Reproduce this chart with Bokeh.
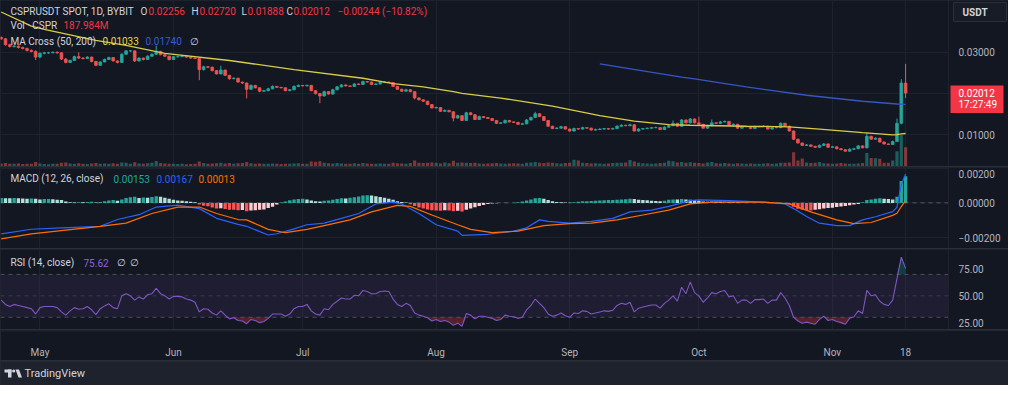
from bokeh.plotting import figure
from bokeh.layouts import column, row
from bokeh.models import (Range1d, FixedTicker, Label, Span, BoxAnnotation,
                          ColumnDataSource, Grid)
from bokeh.core.properties import value
from bokeh.embed import file_html
from bokeh.resources import INLINE

# ---------------- data ----------------
month_ticks = [9, 40, 70, 101, 132, 162, 193, 210]
month_labels = ["May", "Jun", "Jul", "Aug", "Sep", "Oct", "Nov", "18"]

first_open = 0.03361
closes = [
    0.03326, 0.03186, 0.03140, 0.03151, 0.03116, 0.03093, 0.03047, 0.03023, 0.02884, 0.02977,
    0.02988, 0.02988, 0.03000, 0.02988, 0.02837, 0.02756, 0.02802, 0.02895, 0.02860, 0.02849,
    0.02884, 0.02779, 0.02686, 0.02767, 0.02826, 0.02872, 0.02791, 0.02756, 0.02953, 0.03035,
    0.03035, 0.02791, 0.02860, 0.02826, 0.02907, 0.02953, 0.03023, 0.02942, 0.02907, 0.02826,
    0.02895, 0.02895, 0.02907, 0.02884, 0.02860, 0.02849, 0.02581, 0.02651, 0.02640, 0.02558,
    0.02477, 0.02570, 0.02442, 0.02360, 0.02372, 0.02279, 0.02256, 0.02105, 0.02198, 0.02140,
    0.02058, 0.02070, 0.02116, 0.02174, 0.02151, 0.02140, 0.02070, 0.02093, 0.02174, 0.02198,
    0.02186, 0.02198, 0.02070, 0.02000, 0.01942, 0.02047, 0.01988, 0.02093, 0.02163, 0.02209,
    0.02186, 0.02174, 0.02233, 0.02221, 0.02291, 0.02279, 0.02221, 0.02233, 0.02267, 0.02279,
    0.02267, 0.02174, 0.02105, 0.02058, 0.02093, 0.02047, 0.01895, 0.01849, 0.01814, 0.01733,
    0.01651, 0.01663, 0.01570, 0.01593, 0.01558, 0.01407, 0.01465, 0.01349, 0.01535, 0.01488,
    0.01372, 0.01442, 0.01419, 0.01395, 0.01349, 0.01279, 0.01291, 0.01349, 0.01314, 0.01302,
    0.01256, 0.01267, 0.01360, 0.01419, 0.01512, 0.01442, 0.01349, 0.01209, 0.01151, 0.01163,
    0.01198, 0.01140, 0.01093, 0.01151, 0.01140, 0.01175, 0.01163, 0.01116, 0.01128, 0.01140,
    0.01151, 0.01140, 0.01151, 0.01209, 0.01233, 0.01221, 0.01244, 0.01093, 0.01140, 0.01151,
    0.01163, 0.01175, 0.01175, 0.01128, 0.01186, 0.01221, 0.01279, 0.01209, 0.01360, 0.01291,
    0.01384, 0.01291, 0.01256, 0.01163, 0.01221, 0.01291, 0.01279, 0.01314, 0.01326, 0.01244,
    0.01256, 0.01163, 0.01198, 0.01198, 0.01151, 0.01198, 0.01198, 0.01209, 0.01140, 0.01175,
    0.01175, 0.01279, 0.01209, 0.01093, 0.00895, 0.00802, 0.00744, 0.00756, 0.00721, 0.00698,
    0.00744, 0.00779, 0.00698, 0.00709, 0.00663, 0.00640, 0.00605, 0.00651, 0.00663, 0.00732,
    0.00686, 0.00965, 0.00895, 0.00918, 0.00826, 0.00779, 0.00767, 0.00837, 0.01279, 0.02256,
    0.02012]

highs = [
    0.03384, 0.03349, 0.03209, 0.03186, 0.03163, 0.03140, 0.03116, 0.03070, 0.03047, 0.03000,
    0.03012, 0.03012, 0.03023, 0.03023, 0.03000, 0.02860, 0.02826, 0.02919, 0.03000, 0.02884,
    0.02907, 0.02895, 0.02791, 0.02779, 0.02849, 0.02895, 0.02884, 0.02802, 0.02977, 0.03058,
    0.03058, 0.03047, 0.02884, 0.02872, 0.02930, 0.02977, 0.03163, 0.03035, 0.02953, 0.02919,
    0.02907, 0.02919, 0.02930, 0.02919, 0.02895, 0.02872, 0.02860, 0.02674, 0.02663, 0.02651,
    0.02570, 0.02674, 0.02581, 0.02453, 0.02395, 0.02384, 0.02291, 0.02267, 0.02221, 0.02209,
    0.02151, 0.02093, 0.02140, 0.02198, 0.02186, 0.02163, 0.02151, 0.02105, 0.02198, 0.02221,
    0.02209, 0.02221, 0.02209, 0.02081, 0.02012, 0.02070, 0.02058, 0.02116, 0.02186, 0.02233,
    0.02221, 0.02198, 0.02256, 0.02244, 0.02314, 0.02302, 0.02291, 0.02256, 0.02291, 0.02302,
    0.02291, 0.02279, 0.02186, 0.02116, 0.02116, 0.02105, 0.02058, 0.01907, 0.01860, 0.01826,
    0.01744, 0.01686, 0.01674, 0.01616, 0.01605, 0.01570, 0.01488, 0.01477, 0.01558, 0.01547,
    0.01500, 0.01465, 0.01453, 0.01430, 0.01407, 0.01360, 0.01302, 0.01372, 0.01360, 0.01326,
    0.01314, 0.01291, 0.01384, 0.01442, 0.01558, 0.01523, 0.01453, 0.01360, 0.01221, 0.01186,
    0.01221, 0.01209, 0.01151, 0.01175, 0.01163, 0.01198, 0.01186, 0.01175, 0.01151, 0.01163,
    0.01163, 0.01163, 0.01175, 0.01233, 0.01256, 0.01244, 0.01267, 0.01256, 0.01163, 0.01163,
    0.01175, 0.01186, 0.01198, 0.01186, 0.01209, 0.01244, 0.01349, 0.01291, 0.01384, 0.01372,
    0.01407, 0.01395, 0.01442, 0.01267, 0.01244, 0.01372, 0.01302, 0.01337, 0.01349, 0.01337,
    0.01279, 0.01267, 0.01221, 0.01221, 0.01209, 0.01221, 0.01221, 0.01233, 0.01221, 0.01198,
    0.01198, 0.01302, 0.01291, 0.01221, 0.01105, 0.00907, 0.00814, 0.00779, 0.00767, 0.00733,
    0.00767, 0.00802, 0.00791, 0.00733, 0.00721, 0.00674, 0.00651, 0.00674, 0.00686, 0.00756,
    0.00744, 0.01047, 0.00977, 0.00942, 0.00930, 0.00837, 0.00791, 0.00860, 0.01395, 0.02349,
    0.02720]

lows = [
    0.03302, 0.03163, 0.03116, 0.03116, 0.03093, 0.03070, 0.03023, 0.03000, 0.02814, 0.02860,
    0.02953, 0.02965, 0.02977, 0.02965, 0.02814, 0.02733, 0.02744, 0.02791, 0.02837, 0.02826,
    0.02837, 0.02756, 0.02663, 0.02674, 0.02756, 0.02814, 0.02779, 0.02733, 0.02744, 0.02942,
    0.03012, 0.02767, 0.02779, 0.02802, 0.02814, 0.02895, 0.02942, 0.02930, 0.02884, 0.02802,
    0.02814, 0.02872, 0.02884, 0.02872, 0.02849, 0.02837, 0.02326, 0.02558, 0.02616, 0.02535,
    0.02465, 0.02465, 0.02430, 0.02337, 0.02349, 0.02267, 0.02233, 0.01884, 0.02093, 0.02128,
    0.02035, 0.02047, 0.02058, 0.02105, 0.02140, 0.02128, 0.02058, 0.02058, 0.02081, 0.02163,
    0.02174, 0.02174, 0.02058, 0.01977, 0.01767, 0.01930, 0.01977, 0.01977, 0.02081, 0.02151,
    0.02174, 0.02163, 0.02163, 0.02209, 0.02209, 0.02267, 0.02209, 0.02209, 0.02221, 0.02256,
    0.02256, 0.02163, 0.02093, 0.02047, 0.02047, 0.02035, 0.01860, 0.01837, 0.01802, 0.01721,
    0.01640, 0.01640, 0.01558, 0.01558, 0.01547, 0.01326, 0.01395, 0.01337, 0.01337, 0.01477,
    0.01360, 0.01360, 0.01407, 0.01384, 0.01337, 0.01267, 0.01267, 0.01279, 0.01302, 0.01291,
    0.01244, 0.01244, 0.01256, 0.01349, 0.01407, 0.01430, 0.01337, 0.01198, 0.01140, 0.01140,
    0.01151, 0.01128, 0.01081, 0.01081, 0.01128, 0.01128, 0.01151, 0.01105, 0.01105, 0.01116,
    0.01128, 0.01128, 0.01128, 0.01140, 0.01198, 0.01209, 0.01209, 0.01081, 0.01081, 0.01128,
    0.01140, 0.01151, 0.01163, 0.01116, 0.01116, 0.01175, 0.01209, 0.01198, 0.01198, 0.01279,
    0.01279, 0.01279, 0.01244, 0.01151, 0.01151, 0.01209, 0.01267, 0.01267, 0.01302, 0.01233,
    0.01233, 0.01151, 0.01151, 0.01186, 0.01140, 0.01140, 0.01186, 0.01186, 0.01128, 0.01128,
    0.01163, 0.01163, 0.01198, 0.01081, 0.00872, 0.00791, 0.00733, 0.00733, 0.00709, 0.00686,
    0.00686, 0.00733, 0.00686, 0.00686, 0.00651, 0.00628, 0.00593, 0.00593, 0.00640, 0.00651,
    0.00674, 0.00674, 0.00884, 0.00884, 0.00814, 0.00767, 0.00756, 0.00756, 0.00826, 0.01256,
    0.01888]

volumes_m = [
    30, 34, 28, 26, 30, 25, 28, 26, 45, 30,
    24, 22, 26, 28, 36, 40, 30, 28, 32, 26,
    24, 30, 34, 28, 30, 26, 32, 28, 40, 36,
    28, 42, 30, 28, 32, 36, 55, 34, 30, 28,
    26, 24, 26, 22, 24, 28, 48, 34, 28, 30,
    32, 36, 30, 34, 28, 32, 34, 44, 32, 28,
    30, 26, 28, 30, 26, 24, 28, 26, 30, 32,
    28, 26, 50, 46, 52, 36, 32, 30, 34, 30,
    28, 26, 32, 28, 34, 30, 28, 26, 30, 28,
    26, 36, 32, 30, 28, 34, 58, 38, 34, 36,
    40, 38, 30, 40, 32, 56, 36, 40, 38, 34,
    36, 30, 28, 30, 32, 34, 30, 28, 30, 32,
    30, 28, 36, 40, 44, 38, 34, 40, 38, 32,
    30, 34, 38, 66, 58, 36, 34, 30, 32, 30,
    28, 30, 34, 38, 36, 40, 64, 48, 36, 32,
    30, 28, 30, 34, 36, 56, 52, 40, 44, 38,
    42, 36, 34, 30, 40, 44, 32, 30, 34, 30,
    28, 32, 30, 28, 30, 26, 28, 30, 32, 28,
    30, 38, 36, 40, 140, 60, 78, 40, 34, 36,
    44, 32, 30, 28, 30, 34, 30, 28, 26, 30,
    34, 132, 84, 82, 76, 38, 36, 60, 150, 310,
    187.984]

macd_hist = [
    28e-5, 27e-5, 26e-5, 28e-5, 27e-5, 25e-5, 24e-5, 25e-5, 24e-5, 20e-5,
    22e-5, 23e-5, 21e-5, 18e-5, 16e-5, 8e-5, 3e-5, 2e-5, 4e-5, 3e-5,
    5e-5, 6e-5, 2e-5, 5e-5, 10e-5, 14e-5, 16e-5, 13e-5, 20e-5, 28e-5,
    33e-5, 35e-5, 28e-5, 31e-5, 30e-5, 34e-5, 38e-5, 36e-5, 30e-5, 24e-5,
    18e-5, 14e-5, 12e-5, 9e-5, 6e-5, 3e-5, -10e-5, -16e-5, -20e-5, -27e-5,
    -33e-5, -31e-5, -35e-5, -39e-5, -40e-5, -42e-5, -41e-5, -48e-5, -44e-5, -42e-5,
    -40e-5, -38e-5, -30e-5, -22e-5, -10e-5, 2e-5, 8e-5, 15e-5, 20e-5, 22e-5,
    24e-5, 20e-5, 14e-5, 10e-5, 8e-5, 12e-5, 14e-5, 18e-5, 22e-5, 26e-5,
    25e-5, 30e-5, 33e-5, 37e-5, 42e-5, 44e-5, 43e-5, 38e-5, 34e-5, 30e-5,
    24e-5, 18e-5, 10e-5, 5e-5, 2e-5, -8e-5, -18e-5, -26e-5, -33e-5, -38e-5,
    -42e-5, -44e-5, -45e-5, -43e-5, -44e-5, -48e-5, -45e-5, -50e-5, -40e-5, -32e-5,
    -25e-5, -18e-5, -12e-5, -6e-5, -3e-5, -2e-5, 0.0, 1e-5, -1e-5, 1e-5,
    3e-5, 8e-5, 14e-5, 20e-5, 26e-5, 28e-5, 24e-5, 16e-5, 10e-5, 5e-5,
    4e-5, 2e-5, 1e-5, 4e-5, 6e-5, 9e-5, 10e-5, 11e-5, 12e-5, 14e-5,
    15e-5, 16e-5, 17e-5, 18e-5, 20e-5, 21e-5, 24e-5, 22e-5, 18e-5, 16e-5,
    15e-5, 12e-5, 11e-5, 10e-5, 13e-5, 18e-5, 20e-5, 19e-5, 22e-5, 20e-5,
    18e-5, 17e-5, 12e-5, 8e-5, 7e-5, 8e-5, 7e-5, 6e-5, 6e-5, 5e-5,
    4e-5, 3e-5, 2e-5, 1e-5, 0.0, -1e-5, 0.0, -1e-5, -2e-5, -1e-5,
    -1e-5, 1e-5, 0.0, -8e-5, -22e-5, -34e-5, -40e-5, -42e-5, -44e-5, -40e-5,
    -36e-5, -32e-5, -30e-5, -28e-5, -24e-5, -21e-5, -18e-5, -14e-5, -10e-5, -6e-5,
    4e-5, 16e-5, 20e-5, 24e-5, 26e-5, 24e-5, 22e-5, 20e-5, 35e-5, 126e-5,
    153e-5]

macd_days = [0, 7, 14, 23, 27, 32, 36, 41, 46, 50, 55, 57, 62, 64, 68, 71, 75, 79, 83, 87,
             91, 93, 97, 101, 106, 107, 113, 119, 122, 125, 127, 132, 137, 142, 146, 151,
             155, 160, 162, 169, 177, 182, 184, 187, 190, 194, 197, 200, 203, 207, 208, 209, 210]
macd_line = [-0.00179, -0.00152, -0.00144, -0.00135, -0.00096, -0.00068, -0.00024, -0.00013,
             -0.00033, -0.00089, -0.00124, -0.00135, -0.00185, -0.00178, -0.00150, -0.00126,
             -0.00117, -0.00089, -0.00061, -0.00006, 0.00004, -0.00006, -0.00061, -0.00126,
             -0.00163, -0.00187, -0.00181, -0.00163, -0.00144, -0.00098, -0.00107, -0.00117,
             -0.00107, -0.00089, -0.00052, -0.00042, -0.00020, 0.00013, 0.00017, 0.00013,
             0.00004, -0.00006, -0.00033, -0.00079, -0.00117, -0.00131, -0.00131, -0.00098,
             -0.00080, -0.00050, -0.00025, 0.00105, 0.00167]

signal_days = [0, 7, 15, 23, 29, 35, 41, 46, 50, 55, 57, 62, 66, 71, 75, 81, 86, 92, 95, 100,
               106, 109, 114, 120, 126, 132, 137, 143, 149, 155, 160, 165, 177, 183, 188, 194,
               198, 202, 207, 208, 209, 210]
signal_line = [-0.00207, -0.00179, -0.00157, -0.00135, -0.00117, -0.00061, -0.00024, -0.00024,
               -0.00061, -0.00096, -0.00098, -0.00153, -0.00172, -0.00153, -0.00131, -0.00098,
               -0.00052, -0.00014, -0.00020, -0.00070, -0.00126, -0.00153, -0.00172, -0.00163,
               -0.00131, -0.00120, -0.00117, -0.00098, -0.00070, -0.00042, -0.00006, 0.00004,
               0.00004, -0.00006, -0.00052, -0.00098, -0.00120, -0.00113, -0.00072, -0.00060,
               -0.00021, 0.00013]

ma50_days = [0, 7, 10, 22, 29, 38, 53, 68, 84, 91, 98, 105, 107, 116, 128, 139, 147, 155,
             160, 173, 183, 190, 200, 207, 208, 209, 210]
ma50 = [0.03977, 0.03635, 0.03558, 0.03291, 0.03170, 0.02977, 0.02802, 0.02581, 0.02372,
        0.02240, 0.02163, 0.02047, 0.02007, 0.01891, 0.01698, 0.01465, 0.01333, 0.01249,
        0.01233, 0.01209, 0.01193, 0.01140, 0.01054, 0.01000, 0.01005, 0.01025, 0.01033]

ma200_days = [139, 149, 158, 161, 173, 187, 200, 208, 210]
ma200 = [0.02720, 0.02550, 0.02400, 0.02356, 0.02163, 0.01960, 0.01814, 0.01748, 0.01740]

rsi = [
    46, 42, 40, 42, 41, 40, 39, 38, 33, 39,
    40, 40, 40, 39, 35, 32, 36, 39, 37.5, 38,
    40, 37, 32.5, 38, 40.6, 42.5, 39, 38, 50, 52,
    50, 46, 49, 47, 51, 52, 57, 52, 50, 47,
    49.5, 49.5, 49, 47, 46, 44, 35, 38, 37.5, 34,
    32, 36, 32, 28.5, 29.5, 27, 26.5, 24, 28, 27,
    25, 26, 29, 33, 33, 33, 31, 33, 38, 40,
    40, 42, 36, 33, 32, 38, 37, 42, 45, 48,
    47, 47, 50.5, 50, 55, 54, 52, 52, 54, 54.5,
    54, 47, 42, 40, 43, 41, 34, 32, 31, 29.5,
    26.5, 28, 26, 27, 25.5, 22.5, 24.5, 21.5, 33.5, 32,
    28.5, 31, 31, 30, 29, 27, 28, 32, 31, 30.5,
    29, 30, 37, 41, 47, 43, 39, 33, 31, 32,
    34, 31.5, 30, 34, 33.5, 36, 35.5, 33, 34, 35,
    36, 35.5, 36.5, 41, 43, 42, 44, 35, 38.5, 39.5,
    40.5, 41.5, 41.5, 38.5, 43, 46, 50, 45, 58, 52,
    63, 53, 50, 44, 48, 53, 52, 54, 55, 49,
    50, 43, 46, 46, 43, 46.5, 46.5, 47, 43, 46,
    46, 53, 48, 41, 30, 26.5, 24.5, 25.5, 24.5, 23.5,
    28, 31, 27, 28, 26, 25, 23.5, 29, 30.5, 36,
    33.5, 55, 50, 51, 45, 42, 41, 46, 66, 86,
    75.62]

price_ticks = [0.01, 0.03]
price_grid = [0.01, 0.02, 0.03]
macd_ticks = [0.002, 0.0, -0.002]
rsi_ticks = [25, 50, 75]
countdown = "17:27:49"

assert len(closes) == len(highs) == len(lows) == len(volumes_m) == len(macd_hist) == len(rsi) == 211

# ---------------- styling ----------------
BG = "#131722"
GRIDC = "#1e222d"
SEP = "#2a2e39"
TXT = "#d1d4dc"
AXC = "#b2b5be"
UP = "#26a69a"
DN = "#ef5350"
REDT = "#f23645"
MA50C = "#d8cc46"
MA200C = "#3556c4"
FONT = "Roboto"
FW, AXW = 948, 60
H_MAIN, H_MACD, H_RSI, H_TIME, H_FOOT = 166, 81, 80, 28, 24

xr = Range1d(-0.16, 219.96)
days = list(range(len(closes)))
opens = [first_open] + closes[:-1]
cols = [UP if c >= o else DN for o, c in zip(opens, closes)]
tops = [max(o, c) for o, c in zip(opens, closes)]
bots = [min(o, c) for o, c in zip(opens, closes)]


def num(v, d=5):
    return f"{v:.{d}f}".replace("-", "\u2212")


def base_fig(fw, h, xrange, yrange, bg=BG):
    f = figure(frame_width=fw, frame_height=h, x_range=xrange, y_range=yrange,
               x_axis_location=None, y_axis_location=None, toolbar_location=None,
               output_backend="svg", min_border=0, background_fill_color=bg,
               border_fill_color=bg, outline_line_color=None)
    f.center = [r for r in f.center if not isinstance(r, Grid)]
    return f


def pane(h, yr, ticks, labels, grid_ticks):
    f = base_fig(FW, h, xr, yr)
    f.add_layout(Grid(dimension=1, ticker=FixedTicker(ticks=grid_ticks),
                      grid_line_color=GRIDC, grid_line_width=1), "center")
    f.add_layout(Grid(dimension=0, ticker=FixedTicker(ticks=month_ticks),
                      grid_line_color=GRIDC, grid_line_width=1), "center")
    a = base_fig(AXW, h, Range1d(0, AXW), yr)
    # keep each scale label fully inside its pane (6 px clearance at the top edge)
    per_px = (yr.end - yr.start) / h
    ly = [min(t, yr.end - 6.5 * per_px) for t in ticks]
    a.text(x=[10] * len(ticks), y=ly, text=labels, text_color=AXC,
           text_font=value(FONT), text_font_size="10px", text_baseline="middle",
           text_align="left")
    return f, a


def legend(f, h, items, y_from_top):
    for text, x, color in items:
        f.add_layout(Label(x=x, y=h - y_from_top, x_units="screen", y_units="screen",
                           text=text, text_color=color, text_font=FONT,
                           text_font_size="10px", text_baseline="middle"))


# ---------------- main price pane ----------------
y0, y1 = 0.00233, 0.04256
pm, pm_ax = pane(H_MAIN, Range1d(y0, y1), price_ticks, [num(t) for t in price_ticks], price_grid)
pm.extra_y_ranges = {"vol": Range1d(0, 1630)}
src = ColumnDataSource(dict(x=days, o=opens, c=closes, h=highs, l=lows,
                            top=tops, bot=bots, col=cols, vol=volumes_m))
pm.vbar(x="x", top="vol", bottom=0, width=0.74, y_range_name="vol",
        fill_color="col", fill_alpha=0.5, line_color=None, source=src)
pm.segment(x0="x", y0="l", x1="x", y1="h", line_color="col", line_width=1, source=src)
pm.vbar(x="x", top="top", bottom="bot", width=0.62, fill_color="col",
        line_color="col", line_width=0.8, source=src)
pm.line(ma50_days, ma50, line_color=MA50C, line_width=1.3)
pm.line(ma200_days, ma200, line_color=MA200C, line_width=1.3)

chg = closes[-1] - closes[-2]
pct = chg / closes[-2] * 100
legend(pm, H_MAIN, [
    ("CSPRUSDT SPOT, 1D, BYBIT", 10, TXT),
    ("O", 140, TXT), (num(opens[-1]), 148, REDT),
    ("H", 191, TXT), (num(highs[-1]), 199, REDT),
    ("L", 241, TXT), (num(lows[-1]), 247, REDT),
    ("C", 286, TXT), (num(closes[-1]), 293, REDT),
    (f"{num(chg)} ({num(pct, 2)}%)", 337, REDT)], 10.7)
legend(pm, H_MAIN, [("Vol \u00b7 CSPR", 10, TXT),
                    (f"{volumes_m[-1]:.3f}M", 63, REDT)], 25)
legend(pm, H_MAIN, [("MA Cross (50, 200)", 10, TXT),
                    (num(ma50[-1]), 102, "#e6d84b"),
                    (num(ma200[-1]), 145, "#3a5bd6"),
                    ("\u2205", 189, TXT)], 40.7)

# last-price tag and currency button in the price-scale column
ppx = (y1 - y0) / H_MAIN
last = closes[-1]
pm_ax.quad(left=2, right=55, top=last + 7.5 * ppx, bottom=last - 20 * ppx,
           fill_color=REDT, line_color=None)
pm_ax.text(x=[10, 10], y=[last, last - 11.5 * ppx], text=[num(last), countdown],
           text_color="white", text_font=value(FONT), text_font_size="10px",
           text_baseline="middle", text_align="left")
pm_ax.quad(left=5, right=58, top=y1 - 2 * ppx, bottom=y1 - 21 * ppx,
           fill_color="#181c27", line_color=SEP, line_width=1)
pm_ax.text(x=[14], y=[y1 - 11.5 * ppx], text=["USDT"], text_color=TXT,
           text_font=value(FONT), text_font_size="10px", text_font_style="bold",
           text_baseline="middle", text_align="left")

# ---------------- MACD pane ----------------
pmacd, pmacd_ax = pane(H_MACD, Range1d(-0.00263, 0.00204), macd_ticks,
                       [num(t) for t in macd_ticks], macd_ticks)
pmacd.add_layout(Span(location=0, dimension="width", line_color="#787b86",
                      line_alpha=0.6, line_dash="4 4", line_width=1, level="underlay"))
hcols = []
prev = None
for hv in macd_hist:
    if hv >= 0:
        hcols.append("#26a69a" if prev is None or hv >= prev else "#b2dfdb")
    else:
        hcols.append("#ff5252" if prev is None or hv < prev else "#ffcdd2")
    prev = hv
pmacd.vbar(x=days, top=macd_hist, bottom=0, width=0.78, fill_color=hcols, line_color=None)
pmacd.line(macd_days, macd_line, line_color="#2962ff", line_width=1.2)
pmacd.line(signal_days, signal_line, line_color="#ff6d00", line_width=1.2)
legend(pmacd, H_MACD, [("MACD (12, 26, close)", 10, TXT),
                       (num(macd_hist[-1]), 113, "#26a69a"),
                       (num(macd_line[-1]), 156, "#2962ff"),
                       (num(signal_line[-1]), 198, "#ff6d00")], 11)

# ---------------- RSI pane ----------------
prsi, prsi_ax = pane(H_RSI, Range1d(18.6, 93.2), rsi_ticks,
                     [f"{t:.2f}" for t in rsi_ticks], [])
prsi.add_layout(BoxAnnotation(bottom=30, top=70, fill_color="#7e57c2", fill_alpha=0.1,
                              line_color=None, level="underlay"))
for lvl, a in [(70, 0.55), (50, 0.3), (30, 0.55)]:
    prsi.add_layout(Span(location=lvl, dimension="width", line_color="#787b86",
                         line_alpha=a, line_dash="4 4", line_width=1, level="underlay"))
rsi_low = [min(v, 30) for v in rsi]
rsi_high = [max(v, 70) for v in rsi]
prsi.varea(x=days, y1=rsi_low, y2=30, fill_color="#f23645", fill_alpha=0.3)
prsi.varea(x=days, y1=70, y2=rsi_high, fill_color="#089981", fill_alpha=0.3)
prsi.line(days, rsi, line_color="#7e57c2", line_width=1.1)
legend(prsi, H_RSI, [("RSI (14, close)", 10, TXT), (f"{rsi[-1]:.2f}", 83, "#8b66d6"),
                     ("\u2205", 116, TXT), ("\u2205", 129, TXT)], 13)

# ---------------- time axis ----------------
ptime = figure(frame_width=FW, frame_height=1, x_range=xr, y_range=Range1d(0, 1),
               x_axis_location="below", y_axis_location=None, toolbar_location=None,
               output_backend="svg", min_border_left=0, min_border_top=0,
               min_border_right=AXW, min_border_bottom=H_TIME - 1,
               background_fill_color=BG, border_fill_color=BG, outline_line_color=None)
ptime.center = [r for r in ptime.center if not isinstance(r, Grid)]
xa = ptime.xaxis[0]
xa.ticker = FixedTicker(ticks=month_ticks)
xa.major_label_overrides = {t: lab for t, lab in zip(month_ticks, month_labels)}
xa.axis_line_color = None
xa.major_tick_line_color = None
xa.minor_tick_line_color = None
xa.major_label_text_color = AXC
xa.major_label_text_font = FONT
xa.major_label_text_font_size = "10px"
xa.major_label_standoff = 9

# ---------------- footer (TradingView mark) ----------------
pf = base_fig(FW + AXW, H_FOOT, Range1d(0, FW + AXW), Range1d(0, H_FOOT), bg="#1e222d")
pf.quad(left=[4, 7.5], right=[11, 11], top=[16, 16], bottom=[13, 8],
        fill_color=TXT, line_color=None)
pf.scatter(x=[13.2], y=[14.5], size=3.2, marker="circle", fill_color=TXT, line_color=None)
pf.patch(x=[15, 18.5, 21.5, 18], y=[16, 16, 8, 8], fill_color=TXT, line_color=None)
pf.text(x=[24], y=[H_FOOT / 2], text=["TradingView"], text_color=TXT,
        text_font=value(FONT), text_font_size="11px", text_baseline="middle",
        text_align="left")

lay = column(row(pm, pm_ax, spacing=0), row(pmacd, pmacd_ax, spacing=0),
             row(prsi, prsi_ax, spacing=0), ptime, pf,
             spacing=1, styles={"background-color": SEP})
open("out.html", "w").write(file_html(lay, INLINE))
